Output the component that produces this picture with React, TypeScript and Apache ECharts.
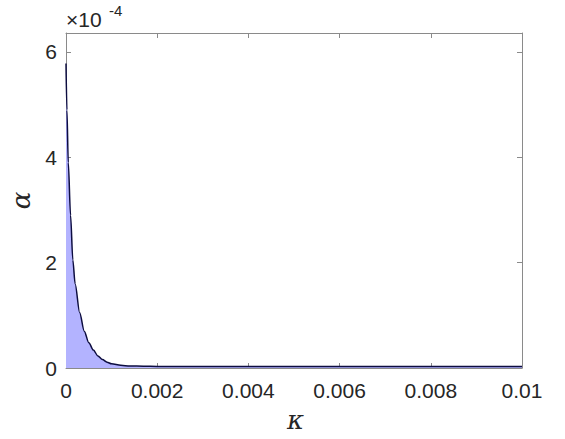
import React, { useEffect, useRef } from "react";
import * as echarts from "echarts";

const kappa = [0, 0.00002, 0.00005, 0.0001, 0.00015, 0.0002, 0.0003, 0.0004, 0.0005, 0.0006, 0.0007, 0.0008, 0.0009, 0.001, 0.0012, 0.0014, 0.0017, 0.002, 0.003, 0.004, 0.005, 0.006, 0.007, 0.008, 0.009, 0.01];
const alpha = [5.78e-4, 4.9e-4, 3.9e-4, 2.9e-4, 2.05e-4, 1.6e-4, 1.05e-4, 0.7e-4, 0.48e-4, 0.34e-4, 0.23e-4, 0.16e-4, 0.11e-4, 0.08e-4, 0.05e-4, 0.04e-4, 0.035e-4, 0.03e-4, 0.03e-4, 0.03e-4, 0.03e-4, 0.03e-4, 0.03e-4, 0.03e-4, 0.03e-4, 0.03e-4];
const xTicks = [0, 0.002, 0.004, 0.006, 0.008, 0.01];
const yTicks = [0, 2e-4, 4e-4, 6e-4];

const axisGray = "#8a8a8a";
const labelColor = "#262626";
const font = "'Liberation Sans', Arial, sans-serif";
const serif = "'DejaVu Serif', 'Liberation Serif', serif";

export default function App() {
  const ref = useRef<HTMLDivElement>(null);
  useEffect(() => {
    if (!ref.current) return;
    const chart = echarts.init(ref.current, null, { renderer: "svg" });
    const xLab = (v: number) => {
      const t = xTicks.find((k) => Math.abs(k - v) < 1e-9);
      return t === undefined ? "" : t === 0 ? "0" : String(t);
    };
    const yLab = (v: number) => {
      const t = yTicks.find((k) => Math.abs(k - v) < 1e-12);
      return t === undefined ? "" : String(Math.round(t / 1e-4));
    };
    const common = {
      axisLine: { show: true, onZero: false, lineStyle: { color: axisGray, width: 1 } },
      axisTick: { show: true, inside: true, length: 5, lineStyle: { color: axisGray } },
      splitLine: { show: false },
    };
    chart.setOption({
      animation: false,
      title: [
        { text: "×10", left: 66, top: 9, padding: 0, textStyle: { fontSize: 21, fontWeight: "normal", fontFamily: font, color: labelColor } },
        { text: "-4", left: 109, top: 3, padding: 0, textStyle: { fontSize: 15, fontWeight: "normal", fontFamily: font, color: labelColor } },
        { text: "κ", left: 287, top: 407, padding: 0, textStyle: { fontSize: 26, fontWeight: "normal", fontStyle: "italic", fontFamily: serif, color: labelColor } },
      ],
      grid: { left: 66, right: 43, top: 33, bottom: 71, containLabel: false },
      xAxis: [
        {
          type: "value", min: 0, max: 0.01, interval: 0.002, position: "bottom",
          ...common,
          axisLabel: { formatter: xLab, color: labelColor, fontSize: 21, fontFamily: font, margin: 12 },
        },
        {
          type: "value", min: 0, max: 0.01, interval: 0.002, position: "top",
          ...common, axisLabel: { show: false },
        },
      ],
      yAxis: [
        {
          type: "value", min: 0, max: 6.36e-4, interval: 2e-4, position: "left",
          ...common,
          name: "α",
          nameLocation: "middle",
          nameRotate: 90,
          nameGap: 32,
          nameTextStyle: { fontSize: 26, fontStyle: "italic", fontFamily: serif, color: labelColor },
          axisLabel: { formatter: yLab, color: labelColor, fontSize: 21, fontFamily: font, margin: 9, showMaxLabel: false },
        },
        {
          type: "value", min: 0, max: 6.36e-4, interval: 2e-4, position: "right",
          ...common, axisLabel: { show: false },
        },
      ],
      series: [
        {
          type: "line",
          data: kappa.map((k, i) => [k, alpha[i]]),
          showSymbol: false,
          smooth: 0.3,
          smoothMonotone: "x",
          lineStyle: { color: "#0d0d40", width: 1.5 },
          areaStyle: { color: "#b3b3ff", opacity: 1 },
          z: 2,
        },
      ],
    });
    return () => chart.dispose();
  }, []);
  return <div ref={ref} style={{ width: 565, height: 439, position: "absolute", left: 0, top: 0, background: "#fff" }} />;
}
